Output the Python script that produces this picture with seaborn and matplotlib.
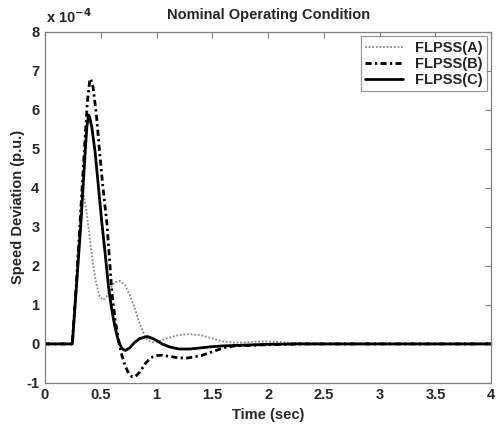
import matplotlib
matplotlib.use("Agg")
import matplotlib.pyplot as plt
import matplotlib.ticker as mticker
import seaborn as sns
import pandas as pd

# Time (sec) and speed deviation (x 1e-4 p.u.)
t_A = [0, 0.245, 0.27, 0.30, 0.33, 0.345, 0.37, 0.40, 0.43, 0.46, 0.49, 0.52, 0.55, 0.58,
       0.62, 0.67, 0.72, 0.76, 0.80, 0.84, 0.88, 0.92, 0.96, 1.0, 1.1, 1.2, 1.3, 1.4,
       1.5, 1.6, 1.7, 1.8, 1.9, 2.0, 2.1, 2.2, 2.4, 2.6, 3.0, 4.0]
v_A = [0, 0, 1.1, 2.6, 3.85, 3.85, 3.45, 2.75, 2.05, 1.55, 1.22, 1.13, 1.2, 1.4,
       1.57, 1.62, 1.5, 1.25, 0.95, 0.6, 0.3, 0.1, 0.04, 0.05, 0.15, 0.23, 0.25, 0.22,
       0.14, 0.06, 0.03, 0.04, 0.06, 0.06, 0.05, 0.03, 0.01, 0.0, 0.0, 0.0]

t_B = [0, 0.245, 0.28, 0.32, 0.36, 0.38, 0.40, 0.41, 0.43, 0.46, 0.49, 0.52, 0.555, 0.58,
       0.60, 0.63, 0.66, 0.69, 0.72, 0.75, 0.78, 0.81, 0.85, 0.90, 0.95, 1.0, 1.05,
       1.12, 1.2, 1.28, 1.4, 1.5, 1.6, 1.7, 1.8, 2.0, 2.3, 4.0]
v_B = [0, 0, 1.5, 3.4, 5.3, 6.2, 6.72, 6.8, 6.6, 5.9, 4.9, 4.0, 3.1, 2.1,
       1.3, 0.6, 0.1, -0.3, -0.58, -0.75, -0.84, -0.84, -0.72, -0.5, -0.35, -0.3, -0.29,
       -0.32, -0.36, -0.36, -0.3, -0.2, -0.1, -0.05, -0.04, -0.02, 0.0, 0.0]

t_C = [0, 0.245, 0.28, 0.32, 0.36, 0.375, 0.39, 0.40, 0.42, 0.45, 0.48, 0.51, 0.54, 0.57,
       0.60, 0.63, 0.66, 0.69, 0.72, 0.76, 0.80, 0.85, 0.92, 0.98, 1.05, 1.12, 1.2,
       1.3, 1.4, 1.5, 1.6, 1.8, 2.0, 2.3, 4.0]
v_C = [0, 0, 1.4, 3.0, 4.9, 5.55, 5.87, 5.82, 5.55, 4.9, 4.0, 3.1, 2.3, 1.45,
       0.85, 0.4, 0.05, -0.12, -0.17, -0.1, 0.03, 0.14, 0.19, 0.12, 0.0, -0.08, -0.13,
       -0.13, -0.1, -0.07, -0.05, -0.03, -0.01, 0.0, 0.0]

series_names = ["FLPSS(A)", "FLPSS(B)", "FLPSS(C)"]
x_ticks = [0, 0.5, 1, 1.5, 2, 2.5, 3, 3.5, 4]
y_ticks = [-1, 0, 1, 2, 3, 4, 5, 6, 7, 8]

sns.set_style("white")
plt.rcParams['font.family'] = ['Liberation Sans', 'DejaVu Sans']
plt.rcParams['font.weight'] = 'bold'

fig = plt.figure(figsize=(4.97, 4.25), dpi=100)
ax = fig.add_axes([0.0905, 0.099, 0.898, 0.826])

styles = [dict(color="#8a8a8a", linestyle=(0, (1, 1)), linewidth=1.3),
          dict(color="black", linestyle=(0, (2.2, 1.2, 0.8, 1.2)), linewidth=2.0),
          dict(color="black", linestyle="-", linewidth=2.0)]
for (tt, vv), name, st in zip([(t_A, v_A), (t_B, v_B), (t_C, v_C)], series_names, styles):
    df = pd.DataFrame({"t": tt, "v": vv})
    sns.lineplot(data=df, x="t", y="v", ax=ax, label=name, estimator=None, sort=False, **st)

ax.set_xlim(0, 4)
ax.set_ylim(-1, 8)
ax.set_xticks(x_ticks)
ax.set_yticks(y_ticks)
ax.xaxis.set_major_formatter(mticker.FormatStrFormatter('%g'))
ax.yaxis.set_major_formatter(mticker.FormatStrFormatter('%g'))
ax.tick_params(direction='in', top=True, right=True, length=4, width=0.8,
               color='#808080', labelsize=10.5, pad=4)
for lab in ax.get_xticklabels() + ax.get_yticklabels():
    lab.set_fontweight('bold')
for sp in ax.spines.values():
    sp.set_color('#808080')
    sp.set_linewidth(0.9)

ax.set_xlabel("Time (sec)", fontsize=10.5, fontweight='bold', labelpad=4)
ax.set_ylabel("Speed Deviation (p.u.)", fontsize=10.5, fontweight='bold', labelpad=1)
ax.set_title("Nominal Operating Condition", fontsize=10.5, fontweight='bold', pad=9)
fig.text(0.092, 0.938, r"x 10$^{-4}$", fontsize=10.5, fontweight='bold', ha='left', va='bottom')

leg = ax.legend(loc='upper right', fontsize=10.5, frameon=True, fancybox=False,
                borderaxespad=0.3, handlelength=2.6, labelspacing=0.15,
                borderpad=0.3, handletextpad=0.8)
leg.get_frame().set_edgecolor('#808080')
leg.get_frame().set_linewidth(0.9)
for txt in leg.get_texts():
    txt.set_fontweight('bold')

fig.savefig("out.png", dpi=100)
